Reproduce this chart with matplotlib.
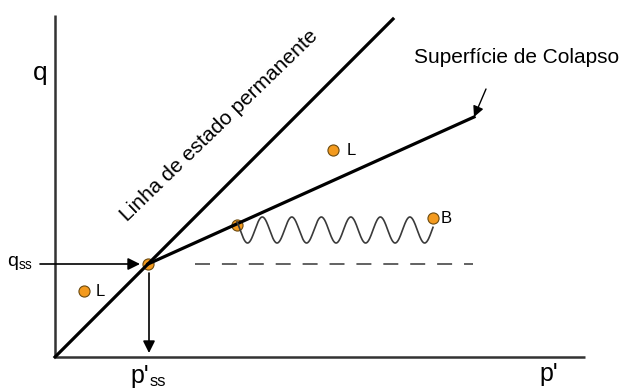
import numpy as np
import matplotlib.pyplot as plt

plt.rcParams['font.family'] = ['Liberation Sans', 'DejaVu Sans']
plt.rcParams['mathtext.fontset'] = 'custom'
plt.rcParams['mathtext.rm'] = 'Liberation Sans'
plt.rcParams['mathtext.it'] = 'Liberation Sans'

# diagram coordinates: origin of the p'-q plane at (0, 0)
p_axis_max = 530
q_axis_max = 342

# linha de estado permanente (passes through the origin)
csl_p = [0, 338]
csl_q = [0, 338]

# estado permanente
p_ss, q_ss = 93, 93

# superficie de colapso
col_p = [93, 419]
col_q = [93, 240]
col_arrow_from = (431, 268)

# carregamento ciclico: starts on the collapse surface, ends at B
cyc_start = (182, 132)
pt_B = (378, 139)
n_cycles = 6.64
wave_amp = 13
wave_mid = 127

# pontos L
pt_L1 = (278, 207)
pt_L2 = (29, 66)

dash_p = [140, 418]

orange = '#F39A1E'

fig = plt.figure(figsize=(6.24, 3.92), dpi=100)
ax = fig.add_axes([0, 0, 1, 1])
ax.set_xlim(-55, 569)
ax.set_ylim(-35, 357)
ax.axis('off')

# eixos
ax.plot([0, 0], [0, q_axis_max], color='#333333', lw=1.8, solid_capstyle='butt')
ax.plot([0, p_axis_max], [0, 0], color='#333333', lw=1.8, solid_capstyle='butt')

ax.plot(csl_p, csl_q, color='black', lw=2.3, zorder=3)
ax.plot(col_p, col_q, color='black', lw=2.3, zorder=3)

# linha tracejada a partir do ponto de estado permanente
ax.plot(dash_p, [q_ss, q_ss], color='#555555', lw=1.3,
        linestyle=(0, (8.3, 6.6)))

# trajetoria ciclica
wx = np.linspace(cyc_start[0], pt_B[0], 400)
ph = (wx - cyc_start[0]) / (pt_B[0] - cyc_start[0]) * n_cycles
wy = wave_mid - wave_amp * np.cos(2 * np.pi * (ph - 10 / 28.0))
ax.plot(wx, wy, color='#3a3a3a', lw=1.2, zorder=4)

# pontos
ax.plot([p_ss, cyc_start[0], pt_B[0], pt_L1[0], pt_L2[0]],
        [q_ss, cyc_start[1], pt_B[1], pt_L1[1], pt_L2[1]],
        'o', ms=8, mfc=orange, mec='#6b4a10', mew=0.8, zorder=2,
        linestyle='none')

# setas
arr = dict(arrowstyle='-|>', color='black', lw=1.2, mutation_scale=18,
           shrinkA=0, shrinkB=0)
ax.annotate('', xy=(p_ss - 8, q_ss), xytext=(-15, q_ss), arrowprops=arr)
ax.annotate('', xy=(p_ss + 1, 4), xytext=(p_ss + 1, q_ss - 9), arrowprops=arr)
ax.annotate('', xy=(col_p[1], col_q[1]), xytext=col_arrow_from,
            arrowprops=dict(arr, lw=1.0, mutation_scale=16))

# textos
ax.text(-15, 284, 'q', fontsize=19, ha='center', va='center')
ax.text(494, -17, "p'", fontsize=18, ha='center', va='center')
ax.text(-35, 94, r'$\mathrm{q_{ss}}$', fontsize=14, ha='center', va='center')
ax.text(p_ss - 8, -26, "p'", fontsize=18, ha='center', va='baseline')
ax.text(p_ss + 2, -29, 'ss', fontsize=12, ha='left', va='baseline')
ax.text(462, 294, 'Superfície de Colapso', fontsize=15, ha='center',
        va='baseline')
ax.text(164, 231, 'Linha de estado permanente', fontsize=15, rotation=44,
        ha='center', va='center', rotation_mode='anchor')
ax.text(pt_L1[0] + 14, pt_L1[1], 'L', fontsize=12, ha='left', va='center')
ax.text(pt_L2[0] + 12, pt_L2[1], 'L', fontsize=12, ha='left', va='center')
ax.text(pt_B[0] + 8, pt_B[1], 'B', fontsize=12, ha='left', va='center')

fig.savefig('out.png', dpi=100)
